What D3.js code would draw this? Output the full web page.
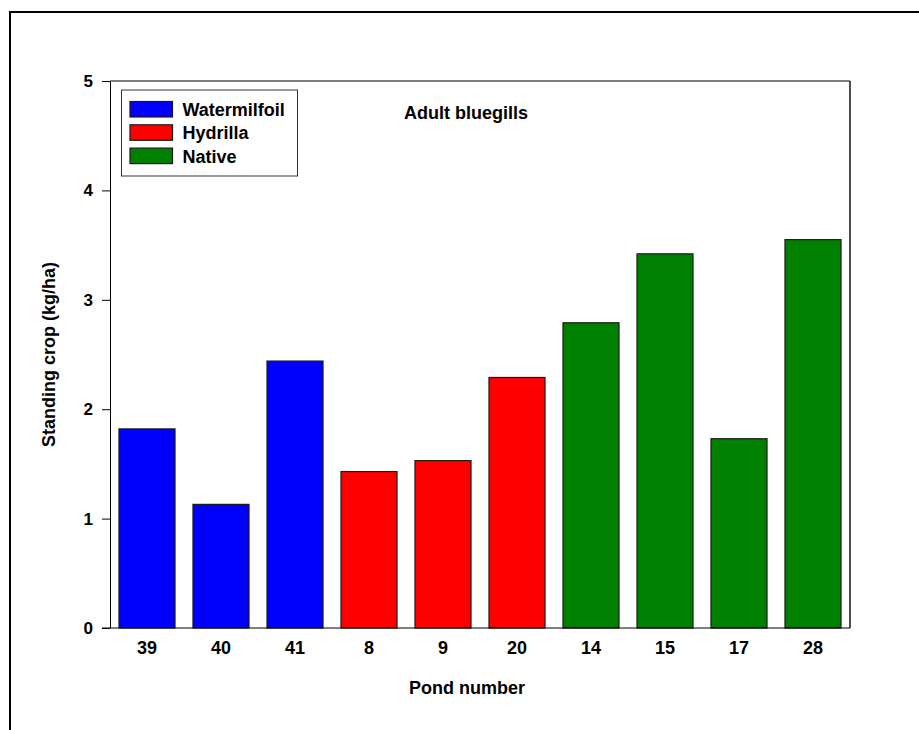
<!DOCTYPE html>
<html>
<head>
<meta charset="utf-8">
<script src="https://cdn.jsdelivr.net/npm/d3@7"></script>
<style>
  html, body { margin: 0; padding: 0; background: #fff; }
  svg text { font-family: "Liberation Sans", Arial, sans-serif; font-weight: bold; fill: #000; }
</style>
</head>
<body>
<svg id="chart" width="919" height="730"></svg>
<script>
const ponds = ["39", "40", "41", "8", "9", "20", "14", "15", "17", "28"];
const values = [1.82, 1.13, 2.44, 1.43, 1.53, 2.29, 2.79, 3.42, 1.73, 3.55];
const groups = ["Watermilfoil", "Watermilfoil", "Watermilfoil", "Hydrilla", "Hydrilla", "Hydrilla", "Native", "Native", "Native", "Native"];
const legendNames = ["Watermilfoil", "Hydrilla", "Native"];
const legendColors = ["#0000ff", "#ff0000", "#008000"];
const yTicks = [0, 1, 2, 3, 4, 5];

const svg = d3.select("#chart");
const pL = 110, pR = 850, pT = 81, pB = 628;

// outer frame (extends beyond the viewport on right and bottom)
svg.append("path")
  .attr("d", "M10,740 L10,12 L930,12")
  .attr("fill", "none").attr("stroke", "#000").attr("stroke-width", 2);

const color = d3.scaleOrdinal().domain(legendNames).range(legendColors);
const x = d3.scaleBand().domain(ponds).range([pL, pR]).paddingInner(0.243).paddingOuter(0.1215);
const y = d3.scaleLinear().domain([0, 5]).range([pB, pT]);

// bars
svg.append("g").selectAll("rect").data(ponds).join("rect")
  .attr("x", d => x(d))
  .attr("y", (d, i) => y(values[i]))
  .attr("width", x.bandwidth())
  .attr("height", (d, i) => y(0) - y(values[i]))
  .attr("fill", (d, i) => color(groups[i]))
  .attr("stroke", "#1a1a1a").attr("stroke-width", 1.2);

// plot frame: top and right
svg.append("line").attr("x1", pL).attr("x2", pR).attr("y1", pT).attr("y2", pT)
  .attr("stroke", "#000").attr("stroke-width", 1);
svg.append("line").attr("x1", pR).attr("x2", pR).attr("y1", pT).attr("y2", pB)
  .attr("stroke", "#222").attr("stroke-width", 1.6);

// y axis
const yAxis = svg.append("g").attr("transform", `translate(${pL},0)`)
  .call(d3.axisLeft(y).tickValues(yTicks).tickFormat(d3.format("d")).tickSize(8).tickPadding(9).tickSizeOuter(0));
yAxis.select(".domain").attr("stroke", "#000");
yAxis.selectAll(".tick line").attr("stroke", "#000");
yAxis.selectAll("text").attr("font-size", 17).attr("font-family", "Liberation Sans, Arial, sans-serif").attr("font-weight", "bold");

// x axis line
svg.append("line").attr("x1", pL - 8).attr("x2", pR).attr("y1", pB).attr("y2", pB)
  .attr("stroke", "#000").attr("stroke-width", 1.2);

// x labels
const xAxis = svg.append("g").attr("transform", `translate(0,${pB})`)
  .call(d3.axisBottom(x).tickSize(0).tickPadding(13));
xAxis.select(".domain").remove();
xAxis.selectAll("text").attr("font-size", 18).attr("font-family", "Liberation Sans, Arial, sans-serif").attr("font-weight", "bold");

// axis titles
svg.append("text").attr("x", 467).attr("y", 694).attr("text-anchor", "middle")
  .attr("font-size", 18).text("Pond number");
svg.append("text").attr("transform", `translate(55,${(pT + pB) / 2}) rotate(-90)`)
  .attr("text-anchor", "middle").attr("font-size", 18).text("Standing crop (kg/ha)");

// chart title
svg.append("text").attr("x", 466).attr("y", 119).attr("text-anchor", "middle")
  .attr("font-size", 18).text("Adult bluegills");

// legend
const lg = svg.append("g");
lg.append("rect").attr("x", 121.5).attr("y", 90).attr("width", 176).attr("height", 86)
  .attr("fill", "#fff").attr("stroke", "#333").attr("stroke-width", 1);
legendNames.forEach((n, i) => {
  const yy = 101.5 + i * 23.3;
  lg.append("rect").attr("x", 130).attr("y", yy).attr("width", 42.5).attr("height", 15.5)
    .attr("fill", legendColors[i]).attr("stroke", "#1a1a1a").attr("stroke-width", 1.2);
  lg.append("text").attr("x", 182.5).attr("y", yy + 14.5).attr("font-size", 18).text(n);
});
</script>
</body>
</html>
